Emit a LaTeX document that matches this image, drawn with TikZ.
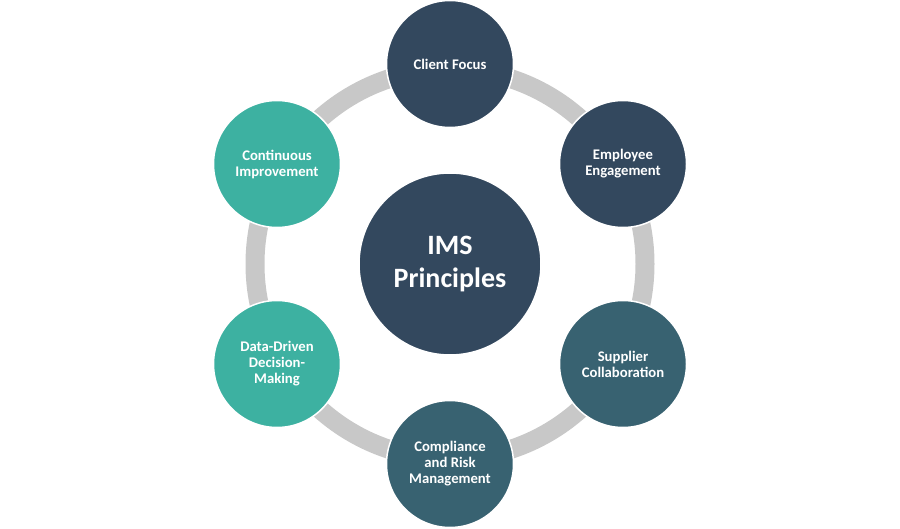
\documentclass[tikz,border=0pt]{standalone}
\usepackage{fontspec}
\setmainfont{Carlito}
\usepackage{tikz}
\usetikzlibrary{shapes}
\definecolor{navy}{HTML}{33485E}
\definecolor{slate}{HTML}{386271}
\definecolor{seagreen}{HTML}{3DB1A1}
\definecolor{ringgray}{HTML}{C8C8C8}
\tikzset{
  principle/.style={circle, draw=white, line width=1.5pt, minimum size=127pt, inner sep=0pt,
    text=white, align=center, font=\fontsize{14.7}{16}\selectfont\bfseries},
  hub/.style={principle, minimum size=182pt, font=\fontsize{28}{33}\selectfont\bfseries}
}
\begin{document}
\begin{tikzpicture}[x=1pt, y=1pt]
 \useasboundingbox (0,0) rectangle (900,528);
 \coordinate (mid) at (450,264);
\draw[ringgray, line width=19pt] (mid) circle (195);
\node[hub, fill=navy] (ims) at (mid) {IMS\\Principles};
\node[principle, fill=navy] (client) at (450,464) {Client Focus};
\node[principle, fill=navy] (employee) at (623,364) {Employee\\Engagement};
\node[principle, fill=slate] (supplier) at (623,164) {Supplier\\Collaboration};
\node[principle, fill=slate] (compliance) at (450,64) {Compliance\\and Risk\\Management};
\node[principle, fill=seagreen] (data) at (277,164) {Data-Driven\\Decision-\\Making};
\node[principle, fill=seagreen] (continuous) at (277,364) {Continuous\\Improvement};
\end{tikzpicture}
\end{document}
